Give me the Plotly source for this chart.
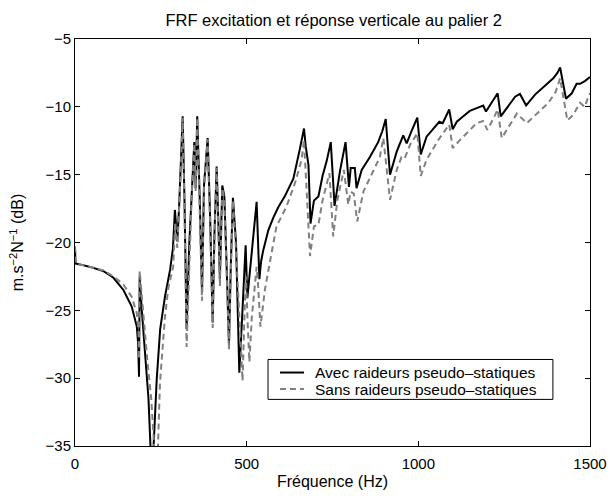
import plotly.graph_objects as go

# Avec raideurs pseudo-statiques (solid black)
freq_avec = [0, 1.5, 20, 44, 82, 112, 141, 165, 180, 184, 186.4, 188.4, 194, 204, 214, 219, 224, 228, 238, 248,
             257, 262, 277, 285, 291, 294, 298, 303, 308, 313.6, 319, 325, 333, 340, 347.5, 351.5, 356, 363, 370,
             375.7, 386.4, 394, 401, 406, 412.6, 417, 422, 429, 435, 442, 448.5, 454, 460, 469, 474, 478.6, 488,
             497, 502, 515, 529, 537, 542, 548, 563, 577, 592, 611, 636, 655, 667, 672, 680, 686, 696, 709, 721,
             733, 745, 756, 772, 788, 798, 803, 815, 820, 835, 859, 883, 895, 905, 917.5, 937, 956, 966, 980, 997,
             1007, 1024, 1044, 1061, 1071, 1090, 1100, 1112, 1131, 1150, 1170, 1189, 1197, 1214, 1231, 1240, 1262,
             1282, 1296, 1314, 1340, 1374, 1393, 1405, 1413, 1430, 1447, 1461, 1471, 1485, 1497, 1500]
db_avec = [-20.3, -21.55, -21.65, -21.8, -22.1, -22.6, -23.5, -24.7, -26.2, -27.5, -29.9, -22.5, -24.8, -28.3,
           -31.5, -34.5, -38.0, -35.5, -30.1, -26.4, -24.7, -24.0, -22.0, -20.5, -17.6, -18.6, -19.9, -17.5, -14.5,
           -10.7, -17.0, -26.4, -20.0, -16.0, -12.6, -16.0, -10.7, -16.5, -23.7, -15.8, -12.3, -18.5, -25.9, -19.5,
           -14.4, -18.0, -22.7, -15.8, -16.6, -22.0, -27.5, -21.5, -16.7, -20.0, -24.5, -29.6, -24.9, -20.2, -24.1,
           -20.5, -17.0, -22.7, -21.4, -20.6, -19.1, -18.2, -17.4, -16.6, -15.3, -13.1, -11.6, -12.9, -14.3, -18.6,
           -16.9, -16.6, -15.1, -14.0, -12.6, -17.3, -14.7, -12.6, -15.9, -14.5, -14.5, -16.0, -14.65, -13.7, -12.6,
           -11.8, -10.9, -15.0, -13.3, -12.1, -12.7, -11.8, -10.8, -13.5, -12.2, -11.6, -11.1, -11.2, -10.2, -11.65,
           -11.1, -10.7, -10.3, -10.1, -9.9, -10.35, -9.7, -9.0, -10.7, -9.9, -9.25, -9.05, -9.9, -9.1, -8.3, -7.9,
           -7.5, -7.1, -9.4, -9.0, -8.3, -8.3, -8.1, -7.9, -7.8]

# Sans raideurs pseudo-statiques (dashed grey)
freq_sans = [0, 1.5, 20, 44, 82, 112, 141, 165, 180, 185, 186.4, 188.4, 199, 210, 222, 233, 238, 241, 247.6, 262,
             272, 286, 292, 298, 303, 308, 313.6, 319, 325, 333, 340, 347.5, 351.5, 356, 363, 370, 375.7, 386.4,
             394, 401, 406, 412.6, 417, 422, 429, 435, 442, 448.5, 454, 460, 469, 475, 488, 494, 498, 503, 508,
             515, 522, 529, 533, 540, 545, 553, 573, 587, 616, 641, 660, 667, 684.5, 696, 709, 721, 741, 752, 764,
             783, 796, 803, 812, 822, 840, 859, 888, 898, 917.5, 937, 951, 960, 976, 997, 1007, 1024, 1058, 1090,
             1100, 1121, 1146, 1170, 1189, 1201, 1218, 1231, 1243, 1267, 1287, 1316, 1345, 1379, 1400, 1413, 1434,
             1451, 1471, 1485, 1497, 1500]
db_sans = [-20.3, -21.55, -21.65, -21.8, -22.05, -22.5, -23.1, -24.0, -25.2, -26.5, -28.6, -22.1, -25.3, -28.5,
           -31.5, -35.2, -38.0, -35.5, -30.3, -25.5, -23.3, -21.8, -18.5, -20.4, -17.8, -14.8, -10.8, -17.5, -27.7,
           -21.0, -16.5, -12.7, -16.2, -10.8, -17.0, -24.3, -16.0, -12.4, -19.0, -26.3, -20.0, -14.5, -18.5, -23.2,
           -16.0, -16.9, -22.5, -27.9, -22.0, -16.9, -20.6, -24.0, -30.2, -25.0, -22.5, -26.0, -28.8, -25.5, -23.5,
           -21.8, -23.0, -26.2, -25.2, -23.5, -20.7, -18.8, -17.35, -15.6, -13.9, -12.45, -21.0, -18.8, -18.7, -16.9,
           -14.9, -19.55, -16.9, -14.65, -17.2, -16.25, -16.4, -18.45, -16.25, -15.25, -13.7, -12.3, -16.85, -14.65,
           -13.7, -13.8, -12.8, -11.95, -15.1, -13.9, -12.45, -11.3, -13.05, -12.45, -11.85, -11.2, -11.05, -11.7,
           -10.9, -10.2, -12.3, -11.3, -10.5, -11.2, -10.5, -9.7, -8.9, -7.9, -11.0, -10.6, -9.7, -10.0, -9.1, -9.0]

series_names = ["Avec raideurs pseudo\u2013statiques", "Sans raideurs pseudo\u2013statiques"]
x_ticks = [0, 500, 1000, 1500]
y_ticks = [-35, -30, -25, -20, -15, -10, -5]

FONT = "Liberation Sans, Arial, Helvetica, sans-serif"
styles = [dict(color="black", width=2), dict(color="#808080", width=2, dash="6px,4px")]

fig = go.Figure()
fig.add_trace(go.Scatter(x=freq_avec, y=db_avec, mode="lines", name=series_names[0],
                         line=styles[0], showlegend=False))
fig.add_trace(go.Scatter(x=freq_sans, y=db_sans, mode="lines", name=series_names[1],
                         line=styles[1], showlegend=False))

# MATLAB-style legend box (compact rows), in paper coordinates
box = dict(x0=0.3748, x1=0.928, y0=0.1145, y1=0.2126)
row_y = [0.1805, 0.140]
fig.add_shape(type="rect", xref="paper", yref="paper", **box,
              line=dict(color="black", width=1), fillcolor="white", layer="above")
for name, st, ry in zip(series_names, styles, row_y):
    fig.add_shape(type="line", xref="paper", yref="paper", x0=0.398, x1=0.4447, y0=ry, y1=ry,
                  line=dict(color=st["color"], width=2, dash=st.get("dash", "solid")), layer="above")
    fig.add_annotation(text=name, xref="paper", yref="paper", x=0.462, y=ry,
                       xanchor="left", yanchor="middle", showarrow=False,
                       font=dict(family=FONT, size=15.5, color="black"))

axis_common = dict(showline=True, linecolor="black", linewidth=1, mirror="ticks",
                   ticks="inside", ticklen=5, tickcolor="black", showgrid=False, zeroline=False,
                   tickfont=dict(family=FONT, size=15, color="black"))

fig.update_layout(
    width=609, height=500,
    margin=dict(l=75, r=19, t=39, b=54, autoexpand=False),
    paper_bgcolor="white", plot_bgcolor="white",
    font=dict(family=FONT, size=15, color="black"),
    title=dict(text="FRF excitation et réponse verticale au palier 2",
               x=0.548, xref="container", xanchor="center",
               y=1 - 14 / 500, yref="container", yanchor="top",
               font=dict(family=FONT, size=16.5, color="black")),
    xaxis=dict(range=[0, 1500], tickvals=x_ticks, ticklabelstandoff=4,
               title=dict(text="Fréquence (Hz)", standoff=4,
                          font=dict(family=FONT, size=16, color="black")),
               **axis_common),
    yaxis=dict(range=[-35, -5], tickvals=y_ticks,
               title=dict(text="m.s<sup>\u22122</sup>N<sup>\u22121</sup> (dB)", standoff=17,
                          font=dict(family=FONT, size=16, color="black")),
               **axis_common),
    showlegend=False,
)

fig.write_html("out.html", config={"displayModeBar": False},
               post_script="document.body.style.margin='0';document.body.style.padding='0';")
